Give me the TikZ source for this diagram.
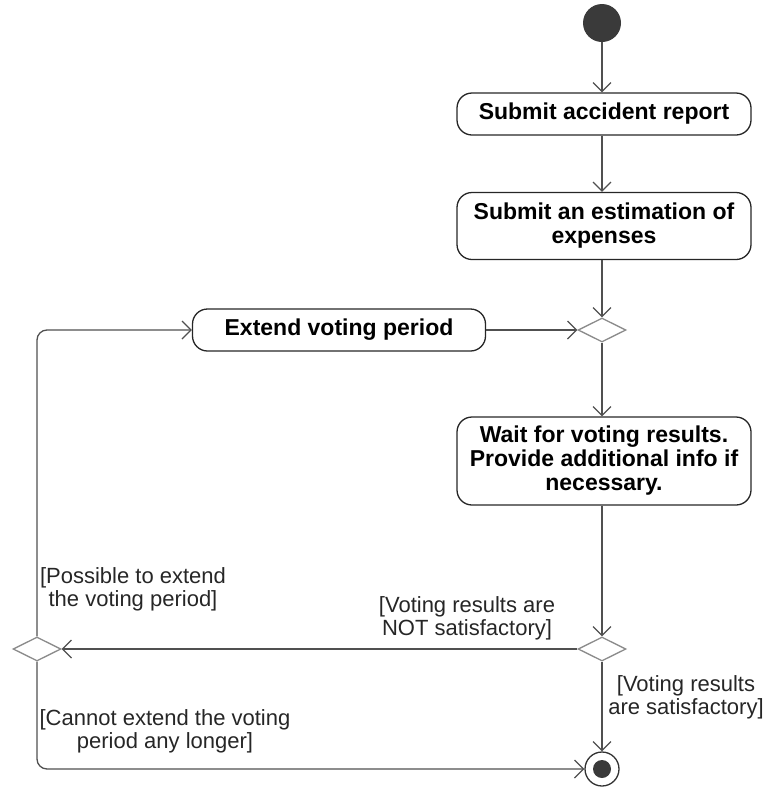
\documentclass[tikz,border=0pt]{standalone}
\usepackage{fontspec}
\setmainfont{Liberation Sans}
\usepackage{tikz}
\usetikzlibrary{arrows.meta,positioning,calc,shapes.geometric}

\definecolor{flowline}{HTML}{505050}
\definecolor{diagray}{HTML}{8A8A8A}
\definecolor{dotfill}{HTML}{3A3A3A}

\begin{document}
\begin{tikzpicture}[
      x=1pt, y=-1pt,
      activity/.style={draw=black!85, rounded corners=15pt, align=center,
                       minimum width=294pt, line width=1.3pt,
                       font=\fontsize{23}{24}\selectfont\bfseries},
      choice/.style={diamond, draw=diagray, fill=white, line width=1.3pt,
                     minimum width=48pt, minimum height=24pt, inner sep=0pt},
      guard/.style={font=\fontsize{22}{23}\selectfont, align=center, text=black!85},
      flow/.style={->, draw=flowline, line width=1.3pt},
      >={Straight Barb[length=9pt, width=18pt, line width=1.2pt]}]

    \useasboundingbox (0,0) rectangle (769,788);

    \node[circle, fill=dotfill, minimum size=38pt, inner sep=0pt] (start) at (602,23) {};

    \node[activity, minimum height=42pt] (report) at (604,114)
      {Submit accident report};
    \node[activity, minimum height=67pt] (estimate) at (604,226)
      {Submit an estimation of\\expenses};
    \node[choice] (merge) at (602,330) {};
    \node[activity, minimum width=293pt, minimum height=42pt] (extend) at (339,330)
      {Extend voting period};
    \node[activity, minimum height=88pt] (wait) at (604,461)
      {Wait for voting results.\\Provide additional info if\\necessary.};
    \node[choice] (decide) at (602,649) {};
    \node[choice] (again) at (37,649) {};
    \node[circle, draw=black!80, line width=1.3pt, minimum size=34pt,
          inner sep=0pt] (final) at (602,769) {};
    \fill[dotfill] (final.center) circle (9pt);

    % guard texts
    \node[guard] (canext) at (133,589) {[Possible to extend\\the voting period]};
    \node[guard] (notsat) at (467,618) {[Voting results are\\NOT satisfactory]};
    \node[guard] (issat) at (686,697) {[Voting results\\are satisfactory]};
    \node[guard] (noext) at (165,731) {[Cannot extend the voting\\period any longer]};

    \draw[flow] (start) -- (report.north -| start);
    \draw[flow] (report.south -| start) -- (estimate.north -| start);
    \draw[flow] (estimate.south -| merge.north) -- (merge.north);
    \draw[flow] (merge) -- (wait.north -| merge);
    \draw[flow] (wait.south -| decide) -- (decide.north);
    \draw[flow] (decide.west) -- (again.east);
    \draw[flow] (decide.south) -- (final.north);
    \draw[flow] (extend.east |- merge) -- (merge.west);
    \draw[flow, rounded corners=10pt] (again.north) |- (extend.west);
    \draw[flow, rounded corners=10pt] (again.south) |- (final.west);
  \end{tikzpicture}
\end{document}
